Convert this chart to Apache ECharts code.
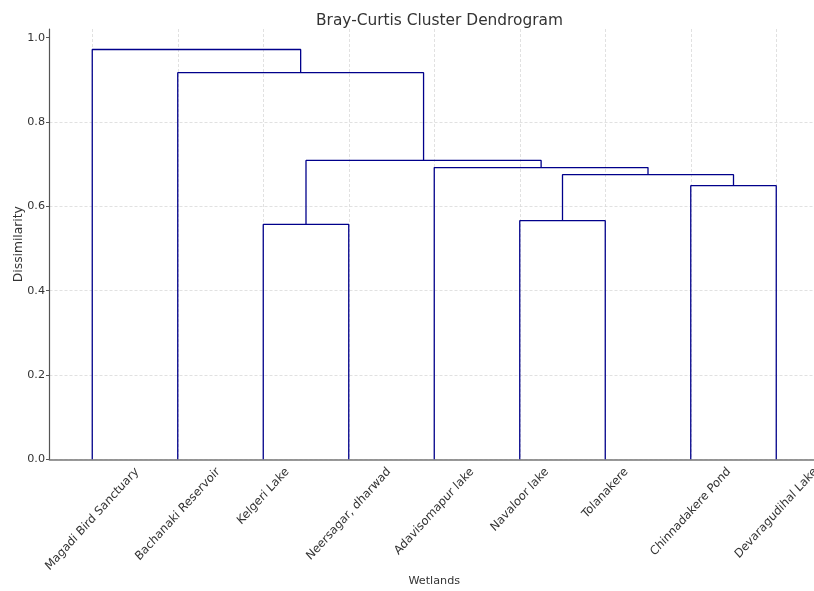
<!DOCTYPE html>
<html>
<head>
<meta charset="utf-8">
<script src="https://cdn.jsdelivr.net/npm/echarts@6.0.0/dist/echarts.min.js"></script>
<style>
  html, body { margin: 0; padding: 0; background: #fff; }
  #chart { width: 814px; height: 591px; }
</style>
</head>
<body>
<div id="chart"></div>
<script>
// leaves in dendrogram order
const leafNames = [
  'Magadi Bird Sanctuary', 'Bachanaki Reservoir', 'Kelgeri Lake', 'Neersagar, dharwad',
  'Adavisomapur lake', 'Navaloor lake', 'Tolanakere', 'Chinnadakere Pond', 'Devaragudihal Lake'
]

// merges: [left node, right node, height]; nodes 0-8 are leaves, 9+ are clusters in order
const mergeLeft = [2, 5, 7, 10, 4, 9, 1, 0]
const mergeRight = [3, 6, 8, 11, 12, 13, 14, 15]
const mergeHeight = [0.557, 0.566, 0.649, 0.675, 0.692, 0.709, 0.917, 0.972]

const yTicks = [0, 0.2, 0.4, 0.6, 0.8, 1.0]

const FONT = '"DejaVu Sans", sans-serif'
const LINE = '#00008b'
const TXT = '#333'
const LABEL_SIZE = 11.2
// the source picture is stretched a little vertically
const STRETCH_Y = 1.1

// scipy style positions: leaf i sits at 5 + 10 i
const nodeX = leafNames.map((_, i) => 5 + 10 * i)
const nodeY = leafNames.map(() => 0)
const linkSeries = mergeHeight.map((h, k) => {
  const l = mergeLeft[k], r = mergeRight[k]
  nodeX.push((nodeX[l] + nodeX[r]) / 2)
  nodeY.push(h)
  return {
    type: 'line',
    xAxisIndex: 0,
    yAxisIndex: 0,
    symbol: 'none',
    silent: true,
    animation: false,
    lineStyle: { color: LINE, width: 1.3 },
    data: [[nodeX[l], nodeY[l]], [nodeX[l], h], [nodeX[r], h], [nodeX[r], nodeY[r]]]
  }
})

const ctx = document.createElement('canvas').getContext('2d')
ctx.font = LABEL_SIZE + 'px ' + FONT

const maxH = Math.max(...mergeHeight) * 1.05

const chart = echarts.init(document.getElementById('chart'))
chart.setOption({
  animation: false,
  title: {
    text: 'Bray-Curtis Cluster Dendrogram',
    left: 311,
    top: 8,
    textStyle: { fontFamily: FONT, fontSize: 15.4, fontWeight: 'normal', color: TXT }
  },
  grid: { left: 49.5, top: 29, width: 769.5, height: 430.3, outerBoundsMode: 'none', containLabel: false },
  xAxis: [
    { type: 'value', min: 0, max: 90, show: false },
    {
      type: 'category',
      data: leafNames,
      position: 'bottom',
      name: 'Wetlands',
      nameLocation: 'middle',
      nameGap: 116,
      nameMoveOverlap: false,
      nameTextStyle: { fontFamily: FONT, fontSize: LABEL_SIZE, color: TXT },
      axisLine: { lineStyle: { color: '#777', width: 1.6 } },
      axisTick: { show: false, alignWithLabel: true, interval: 0 },
      axisLabel: { show: false, interval: 0 },
      splitLine: {
        show: true,
        interval: 0,
        alignWithLabel: true,
        lineStyle: { color: '#d9d9d9', type: [3, 2], width: 0.8 }
      }
    }
  ],
  yAxis: {
    type: 'value',
    min: 0,
    max: maxH,
    interval: 0.2,
    name: 'Dissimilarity',
    nameLocation: 'middle',
    nameGap: 25,
    nameMoveOverlap: false,
    nameTextStyle: { fontFamily: FONT, fontSize: 12.3, color: TXT },
    axisLine: { show: true, lineStyle: { color: '#555', width: 1.2 } },
    axisTick: { show: true, length: 3.5, customValues: yTicks, lineStyle: { color: '#555' } },
    axisLabel: {
      margin: 4.5,
      customValues: yTicks,
      formatter: (v) => v.toFixed(1),
      fontFamily: FONT, fontSize: LABEL_SIZE, color: TXT
    },
    splitLine: {
      show: true,
      showMaxLine: false,
      lineStyle: { color: '#d9d9d9', type: [3, 2], width: 0.8 }
    }
  },
  series: [
    ...linkSeries,
    {
      type: 'custom',
      xAxisIndex: 0,
      yAxisIndex: 0,
      silent: true,
      clip: false,
      data: leafNames.map((_, i) => [nodeX[i], 0]),
      renderItem: (params, api) => {
        const p = api.coord([api.value(0), 0])
        const name = leafNames[params.dataIndex]
        const w = ctx.measureText(name).width
        const half = (w + LABEL_SIZE * 1.15) * Math.SQRT1_2 / 2
        return {
          type: 'group',
          x: p[0],
          y: p[1] + 5.5 + half * STRETCH_Y,
          scaleY: STRETCH_Y,
          children: [{
            type: 'text',
            rotation: Math.PI / 4,
            style: {
              text: name,
              font: LABEL_SIZE + 'px ' + FONT,
              fill: TXT,
              align: 'center',
              verticalAlign: 'middle'
            }
          }]
        }
      }
    }
  ]
})
</script>
</body>
</html>
